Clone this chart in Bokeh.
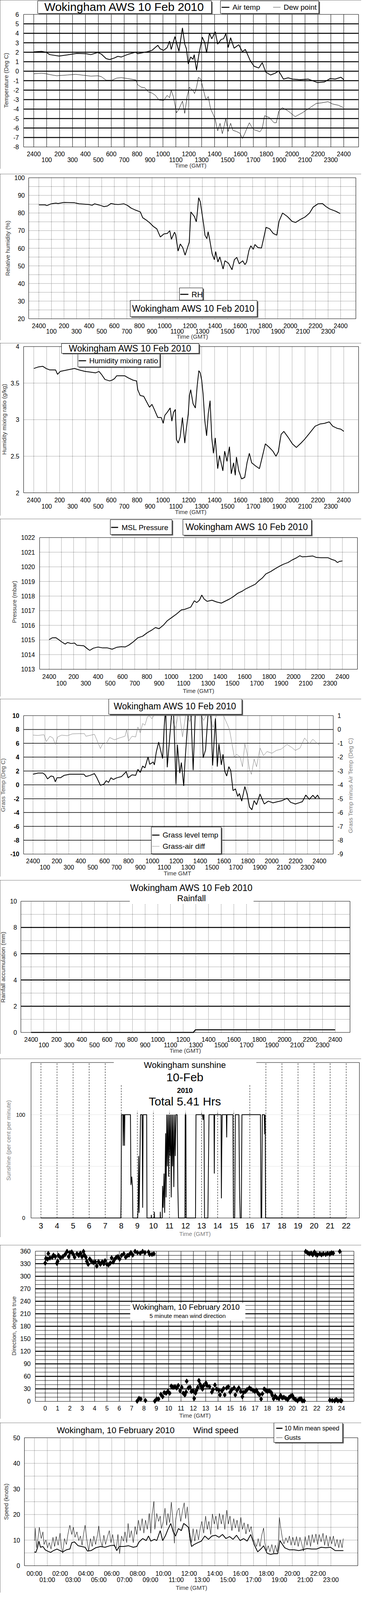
import math
from bokeh.plotting import figure
from bokeh.models import Range1d, Label, BoxAnnotation, Spacer
from bokeh.layouts import column
from bokeh.embed import file_html
from bokeh.resources import INLINE
from bokeh.core.properties import value

# ---------------------------------------------------------------- data
HOURS_ALL = list(range(0, 25))
HOURS_EVEN = [0, 2, 4, 6, 8, 10, 12, 14, 16, 18, 20, 22, 24]
HOURS_ODD = [1, 3, 5, 7, 9, 11, 13, 15, 17, 19, 21, 23]
LABELS_EVEN = ["2400", "200", "400", "600", "800", "1000", "1200", "1400", "1600",
               "1800", "2000", "2200", "2400"]
LABELS_ODD = ["100", "300", "500", "700", "900", "1100", "1300", "1500", "1700",
              "1900", "2100", "2300"]
CLOCK_HOURS_EVEN = [0, 2, 4, 6, 8, 10, 12, 14, 16, 18, 20, 22]
CLOCK_EVEN = ["00:00", "02:00", "04:00", "06:00", "08:00", "10:00", "12:00", "14:00",
              "16:00", "18:00", "20:00", "22:00"]
CLOCK_ODD = ["01:00", "03:00", "05:00", "07:00", "09:00", "11:00", "13:00", "15:00",
             "17:00", "19:00", "21:00", "23:00"]
SUN_HOURS = list(range(3, 23))

AIR_TEMP = [(0.00, 2.04), (0.60, 2.10), (0.96, 2.00), (1.24, 1.75), (1.96, 1.60), (2.60, 1.72),
            (3.33, 1.88), (4.05, 1.85), (4.42, 1.75), (4.96, 1.98), (5.24, 1.80), (5.60, 1.33),
            (5.87, 1.23), (6.24, 1.40), (6.51, 1.57), (6.78, 1.50), (7.33, 1.80), (7.87, 2.00),
            (8.05, 1.85), (8.42, 1.95), (8.78, 2.06), (9.15, 2.20), (9.60, 2.74), (9.78, 2.37),
            (10.05, 2.20), (10.33, 2.50), (10.51, 3.17), (10.64, 2.30), (10.93, 3.66), (11.05, 3.00),
            (11.24, 2.10), (11.51, 4.58), (11.69, 2.86), (11.82, 2.37), (11.96, 0.77), (12.15, 1.50),
            (12.33, 1.26), (12.42, 1.75), (12.60, 0.10), (12.78, 1.75), (13.05, 3.60), (13.24, 3.00),
            (13.38, 1.94), (13.60, 4.03), (13.78, 3.42), (14.05, 4.16), (14.24, 2.86), (14.51, 3.36),
            (14.69, 3.42), (14.87, 3.97), (15.05, 2.50), (15.24, 3.54), (15.51, 2.43), (15.87, 2.80),
            (16.15, 2.06), (16.38, 2.30), (16.75, 1.14), (17.05, 0.53), (17.42, 0.34), (17.69, 0.90),
            (17.96, -0.09), (18.33, -0.40), (18.69, -0.21), (18.96, 0.03), (19.33, -0.83),
            (19.69, -0.70), (20.05, -0.83), (20.60, -0.89), (21.24, -0.83), (21.96, -1.20),
            (22.51, -1.13), (22.96, -0.77), (23.33, -0.83), (23.78, -0.64), (24.00, -0.89)]

DEW_POINT = [(0.00, -0.27), (0.60, -0.21), (0.96, -0.27), (1.24, -0.36), (1.78, -0.48), (1.96, -0.46),
             (2.60, -0.40), (3.24, -0.33), (3.87, -0.43), (4.42, -0.52), (4.96, -0.48), (5.24, -0.58),
             (5.60, -0.95), (6.05, -0.95), (6.42, -0.73), (6.78, -0.68), (7.24, -0.77), (7.60, -0.85),
             (7.91, -0.93), (8.05, -1.44), (8.33, -1.69), (8.60, -1.75), (8.87, -2.18), (9.15, -2.30),
             (9.42, -2.55), (9.69, -3.04), (10.05, -3.10), (10.33, -2.55), (10.51, -2.80), (10.64, -2.00),
             (10.82, -2.74), (11.05, -4.40), (11.24, -4.00), (11.51, -3.16), (11.69, -4.45), (11.87, -2.67),
             (12.05, -1.69), (12.33, -2.06), (12.45, -2.36), (12.60, -1.69), (12.75, -0.64), (12.93, -0.83),
             (13.15, -2.06), (13.33, -3.04), (13.51, -2.67), (13.69, -4.00), (13.87, -4.50), (14.05, -5.10),
             (14.24, -6.30), (14.42, -5.50), (14.60, -6.60), (14.87, -5.00), (15.05, -6.36), (15.24, -5.50),
             (15.42, -6.24), (15.69, -6.36), (15.96, -6.55), (16.15, -7.10), (16.33, -6.60), (16.51, -6.00),
             (16.69, -5.44), (16.87, -5.87), (17.05, -6.18), (17.33, -6.30), (17.51, -6.40), (17.69, -6.05),
             (17.87, -4.70), (18.24, -4.90), (18.60, -5.44), (18.78, -5.44), (18.96, -4.27), (19.24, -3.84),
             (19.69, -4.20), (20.24, -4.80), (20.78, -4.40), (21.33, -3.90), (21.87, -3.40), (22.24, -3.35),
             (22.78, -3.22), (23.15, -3.47), (23.60, -3.60), (23.96, -3.84)]

REL_HUM = [(0.00, 84.6), (0.50, 84.6), (0.64, 84.2), (0.97, 85.2), (1.35, 85.6), (1.53, 85.4), (2.00, 86.0),
           (2.84, 85.8), (3.21, 85.2), (3.96, 84.8), (4.24, 84.4), (4.43, 85.2), (4.90, 84.3), (5.18, 83.6),
           (5.46, 84.0), (5.74, 85.4), (6.02, 85.0), (6.30, 84.8), (6.77, 85.2), (7.05, 84.3), (7.33, 82.8),
           (7.70, 81.6), (8.07, 80.6), (8.26, 77.3), (8.54, 76.0), (8.82, 74.4), (9.10, 72.4), (9.38, 71.0),
           (9.66, 66.4), (9.94, 68.1), (10.22, 68.4), (10.41, 70.0), (10.54, 65.1), (10.79, 69.1),
           (10.88, 67.7), (11.07, 58.4), (11.25, 62.4), (11.44, 60.4), (11.63, 56.1), (11.81, 60.1),
           (11.96, 63.4), (12.09, 80.6), (12.37, 78.0), (12.52, 75.0), (12.60, 80.0), (12.71, 88.7),
           (12.84, 86.3), (13.12, 72.7), (13.21, 67.4), (13.36, 65.4), (13.46, 69.4), (13.59, 64.7),
           (13.78, 56.8), (13.96, 53.5), (14.06, 58.1), (14.24, 52.2), (14.39, 55.1), (14.65, 48.2),
           (14.80, 52.9), (15.08, 51.5), (15.36, 47.8), (15.55, 53.5), (15.74, 54.8), (15.93, 51.2),
           (16.21, 52.9), (16.39, 50.7), (16.52, 52.2), (16.71, 58.8), (16.86, 61.4), (17.05, 59.4),
           (17.18, 62.1), (17.42, 60.4), (17.70, 60.1), (17.89, 66.1), (18.07, 71.9), (18.36, 71.0),
           (18.64, 68.4), (18.92, 67.4), (19.10, 75.3), (19.38, 80.0), (19.76, 78.0), (20.13, 75.3),
           (20.41, 74.6), (20.79, 76.3), (21.16, 77.7), (21.53, 80.0), (21.81, 83.3), (22.19, 85.2),
           (22.56, 85.3), (22.84, 83.6), (23.12, 82.3), (23.60, 81.0), (23.96, 79.7)]

MIX_RATIO = [(0.00, 3.70), (0.33, 3.72), (0.69, 3.73), (0.96, 3.70), (1.24, 3.68), (1.69, 3.68), (1.84, 3.62),
             (2.05, 3.66), (2.60, 3.68), (3.15, 3.70), (3.51, 3.68), (3.96, 3.66), (4.42, 3.65), (4.78, 3.64),
             (5.05, 3.66), (5.24, 3.62), (5.51, 3.55), (5.87, 3.53), (6.05, 3.54), (6.24, 3.56), (6.42, 3.60),
             (6.78, 3.60), (7.05, 3.60), (7.33, 3.57), (7.69, 3.54), (7.96, 3.53), (8.05, 3.41), (8.24, 3.33),
             (8.51, 3.32), (8.69, 3.26), (8.96, 3.17), (9.15, 3.21), (9.33, 3.14), (9.60, 3.03), (9.87, 3.03),
             (10.02, 2.95), (10.15, 3.06), (10.33, 3.10), (10.56, 3.16), (10.69, 2.98), (10.82, 3.10),
             (10.96, 3.14), (11.05, 2.73), (11.18, 2.68), (11.33, 2.76), (11.51, 3.03), (11.69, 2.68),
             (11.78, 2.83), (11.96, 3.08), (12.05, 3.33), (12.15, 3.41), (12.33, 3.22), (12.51, 3.16),
             (12.65, 3.46), (12.78, 3.67), (12.89, 3.64), (13.00, 3.54), (13.11, 3.35), (13.24, 2.99),
             (13.38, 2.78), (13.51, 3.08), (13.65, 3.26), (13.78, 2.75), (13.91, 2.54), (14.05, 2.75),
             (14.24, 2.33), (14.38, 2.51), (14.64, 2.30), (14.78, 2.57), (14.96, 2.43), (15.15, 2.63),
             (15.29, 2.26), (15.47, 2.41), (15.60, 2.24), (15.69, 2.49), (15.87, 2.30), (16.09, 2.19),
             (16.33, 2.21), (16.51, 2.41), (16.69, 2.54), (16.87, 2.41), (17.15, 2.37), (17.47, 2.33),
             (17.69, 2.49), (17.93, 2.67), (18.24, 2.62), (18.51, 2.57), (18.75, 2.50), (18.93, 2.56),
             (19.15, 2.80), (19.36, 2.84), (19.69, 2.76), (20.02, 2.67), (20.33, 2.62), (20.69, 2.68),
             (20.96, 2.73), (21.33, 2.81), (21.78, 2.91), (22.15, 2.94), (22.51, 2.95), (22.87, 2.97),
             (23.15, 2.91), (23.51, 2.88), (23.78, 2.87), (24.00, 2.84)]

PRESSURE = [(0.00, 1015.03), (0.25, 1015.15), (0.54, 1015.16), (0.77, 1015.03), (1.02, 1014.87),
            (1.31, 1014.72), (1.50, 1014.83), (1.79, 1014.76), (2.08, 1014.79), (2.27, 1014.64),
            (2.84, 1014.60), (3.13, 1014.40), (3.32, 1014.29), (3.61, 1014.44), (4.00, 1014.52),
            (4.38, 1014.46), (4.77, 1014.46), (5.15, 1014.37), (5.53, 1014.50), (5.92, 1014.54),
            (6.21, 1014.52), (6.50, 1014.64), (6.88, 1014.87), (7.26, 1015.15), (7.65, 1015.26),
            (8.03, 1015.50), (8.42, 1015.69), (8.70, 1015.85), (8.99, 1015.77), (9.38, 1016.04),
            (9.67, 1016.32), (10.05, 1016.55), (10.43, 1016.78), (10.82, 1017.06), (11.11, 1017.10),
            (11.40, 1017.19), (11.59, 1017.25), (11.88, 1017.68), (12.07, 1017.56), (12.30, 1017.72),
            (12.49, 1018.07), (12.68, 1017.80), (12.93, 1017.64), (13.32, 1017.72), (13.70, 1017.60),
            (14.09, 1017.52), (14.47, 1017.68), (14.76, 1017.80), (15.05, 1017.95), (15.43, 1018.19),
            (15.81, 1018.34), (16.10, 1018.50), (16.49, 1018.66), (16.87, 1018.81), (17.16, 1019.05),
            (17.45, 1019.24), (17.74, 1019.52), (18.12, 1019.67), (18.50, 1019.87), (18.89, 1020.06),
            (19.18, 1020.18), (19.56, 1020.30), (19.85, 1020.45), (20.23, 1020.61), (20.52, 1020.76),
            (20.72, 1020.68), (21.10, 1020.70), (21.58, 1020.74), (21.87, 1020.64), (22.25, 1020.62),
            (22.83, 1020.62), (23.12, 1020.51), (23.41, 1020.43), (23.60, 1020.29), (23.75, 1020.37),
            (24.00, 1020.40)]

GRASS_TEMP = [(0.00, 1.53), (0.43, 1.70), (0.83, 1.70), (1.02, 1.45), (1.22, 0.86), (1.51, 1.28), (1.71, 1.20),
              (1.87, 0.44), (2.01, 1.02), (2.30, 1.02), (2.60, 1.36), (3.09, 1.53), (3.68, 1.53), (4.27, 1.53),
              (4.43, 1.20), (4.76, 1.36), (5.15, 1.62), (5.35, 1.02), (5.65, -0.07), (5.94, 0.10), (6.14, 0.60),
              (6.33, 0.35), (6.53, 1.02), (6.73, 0.77), (7.02, 1.02), (7.42, 1.20), (7.81, 1.90), (7.97, 1.02),
              (8.30, 1.45), (8.60, 1.36), (8.79, 2.24), (8.99, 1.79), (9.19, 2.71), (9.38, 2.46), (9.64, 4.03),
              (9.78, 2.97), (10.07, 3.30), (10.17, 2.88), (10.33, 4.74), (10.53, 6.17), (10.66, 5.24),
              (10.86, 3.81), (11.00, 8.60), (11.12, 11.0), (11.25, 2.54), (11.45, 6.76), (11.65, 11.0),
              (11.78, 10.5), (11.98, 0.10), (12.10, 5.80), (12.30, 1.70), (12.43, 3.22), (12.63, -0.15),
              (12.73, 3.22), (13.02, 10.5), (13.22, 10.8), (13.42, 2.12), (13.61, 11.0), (13.91, 10.5),
              (14.11, 11.0), (14.26, 3.90), (14.46, 5.07), (14.70, 11.0), (14.89, 10.8), (15.05, 2.80),
              (15.29, 9.60), (15.44, 2.63), (15.58, 5.90), (15.78, 2.88), (15.92, 4.40), (16.07, 1.96),
              (16.23, 1.28), (16.41, 2.63), (16.57, 2.04), (16.76, -0.83), (16.96, -0.58), (17.16, -1.67),
              (17.29, -1.25), (17.49, -2.35), (17.75, -0.24), (17.94, -1.33), (18.14, -3.19), (18.34, -3.60),
              (18.53, -2.27), (18.73, -2.86), (19.02, -1.33), (19.38, -2.77), (19.71, -2.35), (20.11, -2.60),
              (20.50, -2.43), (20.89, -2.27), (21.29, -1.93), (21.58, -2.52), (21.98, -2.77), (22.57, -2.43),
              (22.86, -1.47), (23.15, -2.10), (23.45, -1.50), (23.65, -1.93), (23.84, -1.47), (24.00, -2.00)]

GRASS_AIR_DIFF = [(0.00, -0.41), (0.43, -0.43), (0.92, -0.38), (1.12, -0.87), (1.42, -0.49), (1.67, -0.62),
                  (1.87, -1.08), (2.07, -0.54), (2.40, -0.41), (2.89, -0.45), (3.29, -0.32), (3.88, -0.30),
                  (4.31, -0.30), (4.43, -0.49), (4.86, -0.41), (5.15, -0.35), (5.45, -0.96), (5.65, -1.38),
                  (5.84, -1.04), (6.14, -1.00), (6.43, -0.58), (6.83, -0.75), (7.22, -0.62), (7.71, -0.49),
                  (7.85, 0.00), (8.01, -0.83), (8.30, -0.49), (8.60, -0.54), (8.79, 0.18), (8.99, -0.24),
                  (9.19, 0.43), (9.38, 0.31), (9.58, 0.90), (9.74, 1.00), (9.97, 0.77), (10.17, 1.07),
                  (10.56, 1.40), (10.96, 1.30), (11.35, 1.50), (11.94, 0.05), (12.24, 1.40), (12.53, -0.54),
                  (12.83, 1.30), (13.12, 0.56), (13.52, 1.40), (13.91, 1.30), (14.30, 0.65), (14.70, 1.40),
                  (15.09, 0.14), (15.48, 1.40), (15.97, 0.98), (16.27, 0.39), (16.47, -0.03), (16.66, -0.96),
                  (16.86, -1.97), (17.06, -1.80), (17.35, -1.97), (17.55, -2.69), (17.75, -1.04), (17.94, -1.72),
                  (18.14, -2.90), (18.30, -3.24), (18.53, -2.14), (18.73, -2.69), (19.02, -1.34), (19.32, -1.89),
                  (19.61, -1.59), (20.01, -1.72), (20.40, -1.51), (20.80, -1.42), (21.29, -1.08), (21.68, -1.30),
                  (21.98, -1.51), (22.37, -1.34), (22.76, -0.62), (23.15, -1.04), (23.45, -0.70), (23.75, -0.96),
                  (24.00, -1.13)]

RAINFALL = [(0.00, 0.0), (12.80, 0.0), (12.97, 0.2), (24.00, 0.2)]

SUNSHINE = [(3.00, 0), (7.97, 0), (7.99, 20), (8.01, 100), (8.10, 100), (8.12, 70), (8.14, 100), (8.18, 100),
            (8.20, 70), (8.22, 100), (8.57, 100), (8.60, 32), (8.65, 40), (8.70, 30), (8.72, 0), (9.02, 0),
            (9.05, 10), (9.08, 60), (9.11, 5), (9.20, 100), (9.30, 100), (9.33, 10), (9.36, 100), (9.58, 100),
            (9.60, 0), (9.86, 0), (9.87, 3), (9.88, 0), (10.05, 0), (10.06, 6), (10.07, 0), (10.42, 0),
            (10.43, 6), (10.44, 0), (10.55, 0), (10.57, 31), (10.61, 10), (10.66, 43), (10.70, 5), (10.76, 82),
            (10.79, 20), (10.83, 100), (10.87, 50), (10.91, 100), (10.95, 40), (10.99, 100), (11.03, 60),
            (11.07, 100), (11.11, 20), (11.15, 100), (11.19, 50), (11.23, 100), (11.27, 30), (11.32, 100),
            (11.36, 60), (11.40, 100), (11.48, 100), (11.52, 30), (11.56, 0), (11.96, 0), (11.98, 100),
            (12.02, 100), (12.04, 0), (12.62, 0), (12.65, 100), (13.06, 100), (13.09, 95), (13.12, 100),
            (13.15, 100), (13.18, 0), (13.39, 0), (13.46, 100), (13.77, 100), (13.79, 43), (13.81, 100),
            (14.21, 100), (14.23, 19), (14.25, 61), (14.28, 100), (14.54, 100), (14.56, 78), (14.58, 100),
            (14.95, 100), (14.98, 0), (15.06, 0), (15.10, 100), (15.32, 100), (15.36, 28), (15.40, 0),
            (15.47, 0), (15.51, 100), (16.66, 100), (16.70, 0), (16.74, 0), (16.78, 100), (16.90, 100),
            (16.93, 81), (16.96, 100), (16.98, 0), (22.00, 0)]

WIND_DIR = [(0.00, 331.5), (0.06, 342.7), (0.19, 341.0), (0.25, 354.4), (0.38, 344.0), (0.57, 345.5),
            (0.67, 350.5), (0.82, 346.9), (0.95, 331.0), (1.01, 335.7), (1.08, 349.7), (1.24, 344.0),
            (1.43, 346.9), (1.62, 352.4), (1.77, 359.4), (1.90, 346.9), (2.00, 356.6), (2.15, 358.0),
            (2.28, 352.4), (2.38, 345.5), (2.57, 353.8), (2.72, 349.7), (2.85, 355.2), (2.98, 346.9),
            (3.10, 359.4), (3.17, 351.0), (3.29, 345.5), (3.37, 335.7), (3.48, 328.7), (3.61, 341.3),
            (3.71, 337.0), (3.90, 332.9), (4.05, 334.3), (4.18, 324.5), (4.32, 334.8), (4.47, 328.7),
            (4.62, 334.3), (4.75, 330.0), (4.85, 337.0), (5.00, 328.7), (5.13, 327.3), (5.27, 331.5),
            (5.38, 344.0), (5.51, 334.3), (5.61, 339.9), (5.76, 345.5), (5.89, 346.9), (6.03, 341.3),
            (6.18, 349.7), (6.37, 353.8), (6.52, 345.5), (6.65, 349.7), (6.79, 351.0), (6.94, 356.6),
            (7.09, 351.0), (7.28, 359.4), (7.47, 356.6), (7.70, 355.2), (7.89, 359.4), (8.08, 356.6),
            (8.37, 358.0), (8.46, 352.4), (8.65, 352.4), (8.80, 353.8),
            (7.45, 0.6), (7.60, 7.0), (7.74, 5.6), (8.12, 2.0), (8.88, 0.6), (9.03, 5.6), (9.18, 5.6),
            (9.37, 16.8), (9.51, 11.2), (9.64, 21.0), (9.79, 19.6), (9.94, 23.8), (10.08, 19.6),
            (10.21, 36.4), (10.36, 33.6), (10.51, 35.0), (10.65, 32.2), (10.78, 37.8), (10.93, 25.2),
            (11.06, 33.6), (11.18, 19.6), (11.31, 15.4), (11.41, 22.4), (11.46, 48.1), (11.60, 32.2),
            (11.73, 33.6), (11.84, 23.8), (11.98, 25.2), (12.07, 7.0), (12.17, 19.6), (12.26, 26.6),
            (12.36, 33.6), (12.45, 49.8), (12.55, 40.6), (12.64, 35.0), (12.74, 29.4), (12.83, 37.8),
            (13.02, 43.9), (13.12, 37.8), (13.31, 35.0), (13.50, 22.4), (13.59, 28.0), (13.75, 39.2),
            (13.88, 29.4), (14.07, 26.6), (14.16, 15.4), (14.32, 25.2), (14.45, 30.8), (14.54, 15.4),
            (14.70, 32.2), (14.83, 35.0), (14.98, 22.4), (15.11, 28.0), (15.30, 32.2), (15.40, 15.4),
            (15.53, 26.6), (15.68, 32.2), (15.84, 23.8), (15.97, 11.2), (16.06, 21.0), (16.22, 23.8),
            (16.35, 28.0), (16.54, 32.2), (16.67, 29.4), (16.83, 26.6), (16.98, 23.8), (17.11, 26.6),
            (17.24, 19.6), (17.36, 15.4), (17.49, 5.6), (17.59, 18.2), (17.74, 29.4), (17.87, 26.6),
            (18.00, 23.8), (18.16, 25.2), (18.31, 21.0), (18.38, 15.4), (18.50, 6.4), (18.63, 12.6),
            (18.76, 8.4), (18.92, 7.0), (19.07, 14.0), (19.20, 8.4), (19.33, 9.8), (19.49, 7.0),
            (19.64, 4.2), (19.77, 9.8), (19.90, 12.6), (20.02, 14.0), (20.15, 7.0), (20.29, 4.2),
            (20.44, 1.4), (20.59, 5.6), (20.72, 6.4), (20.82, 1.4), (20.97, 1.4),
            (21.10, 359.4), (21.24, 356.6), (21.39, 353.8), (21.54, 355.2), (21.67, 351.6), (21.81, 358.0),
            (21.92, 352.4), (22.05, 351.0), (22.24, 353.8), (22.38, 351.6), (22.53, 353.8), (22.72, 352.4),
            (22.87, 354.4), (23.06, 353.3), (23.19, 356.0), (23.33, 355.2), (23.86, 359.4),
            (23.06, 2.8), (23.25, 2.0), (23.44, 1.4), (23.57, 4.2), (23.71, 1.4), (23.90, 2.0), (24.00, 1.4)]

WIND_MEAN = [(0.00, 5.4), (0.11, 5.2), (0.24, 7.0), (0.35, 9.6), (0.47, 7.2), (0.66, 7.5), (0.84, 6.2),
             (1.02, 5.7), (1.26, 5.2), (1.48, 5.9), (1.75, 6.5), (1.99, 5.9), (2.20, 5.4), (2.48, 6.2),
             (2.75, 6.5), (2.90, 9.0), (3.11, 9.3), (3.39, 7.8), (3.66, 7.5), (3.93, 7.2), (4.12, 5.7),
             (4.39, 5.9), (4.75, 7.0), (5.12, 7.5), (5.48, 7.2), (5.85, 7.8), (6.21, 8.0), (6.39, 5.9),
             (6.58, 7.5), (6.94, 7.5), (7.30, 7.8), (7.67, 7.2), (7.94, 7.5), (8.12, 9.3), (8.40, 10.6),
             (8.67, 9.8), (8.85, 11.6), (9.03, 9.6), (9.31, 10.3), (9.49, 9.8), (9.76, 13.7), (9.95, 9.8),
             (10.18, 11.9), (10.36, 14.2), (10.58, 16.5), (10.77, 13.2), (10.95, 11.6), (11.17, 14.5),
             (11.40, 13.7), (11.58, 16.5), (11.77, 15.8), (11.95, 15.0), (12.08, 10.3), (12.19, 7.5),
             (12.40, 8.3), (12.68, 9.0), (12.95, 9.6), (13.22, 11.6), (13.50, 10.3), (13.77, 11.6),
             (14.04, 11.9), (14.32, 11.1), (14.59, 12.2), (14.86, 10.6), (15.14, 11.4), (15.41, 10.3),
             (15.68, 11.9), (15.96, 9.8), (16.23, 10.6), (16.50, 9.6), (16.78, 12.2), (17.05, 8.3),
             (17.32, 5.4), (17.60, 6.7), (17.78, 7.8), (18.05, 4.9), (18.32, 4.4), (18.60, 4.7),
             (18.87, 4.7), (19.05, 9.8), (19.24, 8.3), (19.42, 7.0), (19.78, 6.2), (20.15, 6.2),
             (20.51, 5.9), (20.78, 6.2), (21.15, 6.7), (21.51, 6.5), (21.88, 6.5), (22.24, 7.2),
             (22.60, 7.0), (22.97, 7.2), (23.33, 5.9), (23.70, 5.9), (23.97, 5.9)]

WIND_GUST = [(0.02, 9.8), (0.07, 14.7), (0.16, 7.0), (0.29, 11.1), (0.38, 15.0), (0.53, 10.6), (0.66, 13.2),
             (0.75, 8.3), (0.89, 10.1), (1.02, 7.0), (1.15, 9.0), (1.29, 6.5), (1.44, 11.1), (1.57, 7.5),
             (1.69, 11.4), (1.84, 8.0), (1.99, 12.7), (2.11, 7.0), (2.20, 4.9), (2.33, 10.6), (2.48, 8.3),
             (2.60, 12.2), (2.75, 15.8), (2.90, 12.2), (3.02, 15.0), (3.15, 11.1), (3.30, 13.2), (3.44, 9.8),
             (3.57, 11.6), (3.70, 8.0), (3.81, 12.2), (3.93, 15.8), (4.06, 10.6), (4.21, 5.7), (4.35, 10.6),
             (4.48, 7.5), (4.61, 11.6), (4.75, 8.3), (4.90, 12.2), (4.99, 15.5), (5.12, 10.1), (5.26, 7.5),
             (5.39, 11.9), (5.52, 8.3), (5.66, 11.1), (5.81, 13.7), (5.94, 9.0), (6.07, 12.2), (6.21, 7.5),
             (6.36, 7.0), (6.48, 12.2), (6.61, 4.7), (6.76, 11.6), (6.90, 9.6), (7.03, 13.2), (7.16, 9.0),
             (7.27, 16.5), (7.40, 10.9), (7.52, 13.7), (7.67, 9.0), (7.81, 15.3), (7.94, 12.2), (8.07, 17.8),
             (8.21, 13.7), (8.36, 18.4), (8.49, 12.7), (8.62, 17.8), (8.76, 14.2), (8.91, 20.4), (9.03, 12.7),
             (9.13, 19.9), (9.27, 25.1), (9.34, 14.2), (9.49, 20.4), (9.64, 17.3), (9.76, 19.4), (9.85, 14.5),
             (10.00, 17.3), (10.13, 22.5), (10.26, 15.8), (10.36, 20.4), (10.49, 16.8), (10.62, 24.8),
             (10.73, 18.6), (10.86, 8.8), (10.95, 17.8), (11.09, 21.5), (11.22, 22.5), (11.35, 17.3),
             (11.49, 21.5), (11.62, 24.6), (11.73, 18.4), (11.86, 23.0), (11.95, 17.8), (12.04, 13.2),
             (12.19, 9.0), (12.31, 14.5), (12.44, 9.6), (12.59, 14.2), (12.73, 10.1), (12.86, 14.5),
             (12.99, 17.3), (13.13, 12.7), (13.28, 19.4), (13.41, 14.2), (13.53, 17.3), (13.68, 12.2),
             (13.81, 20.2), (13.95, 16.3), (14.08, 19.4), (14.23, 14.2), (14.35, 20.4), (14.50, 16.3),
             (14.63, 19.9), (14.77, 14.2), (14.92, 21.7), (15.05, 16.3), (15.17, 19.4), (15.32, 13.7),
             (15.46, 18.4), (15.59, 14.7), (15.72, 17.8), (15.87, 13.2), (16.01, 18.9), (16.14, 14.2),
             (16.27, 16.8), (16.41, 12.4), (16.56, 16.3), (16.68, 13.2), (16.81, 15.3), (16.96, 10.6),
             (17.10, 9.0), (17.23, 7.5), (17.36, 10.6), (17.50, 7.5), (17.65, 12.2), (17.78, 14.7),
             (17.87, 9.0), (18.01, 5.9), (18.14, 7.8), (18.27, 5.4), (18.42, 8.3), (18.56, 4.9), (18.69, 8.0),
             (18.82, 5.4), (18.93, 9.3), (19.00, 18.9), (19.11, 14.7), (19.24, 10.6), (19.36, 8.5),
             (19.51, 10.9), (19.65, 9.0), (19.78, 11.6), (19.91, 8.0), (20.05, 11.1), (20.20, 8.0),
             (20.33, 11.4), (20.46, 7.5), (20.60, 11.1), (20.75, 8.3), (20.87, 5.7), (21.00, 11.4),
             (21.15, 8.0), (21.29, 11.9), (21.42, 7.5), (21.55, 12.2), (21.69, 9.0), (21.84, 12.4),
             (21.97, 8.3), (22.09, 12.2), (22.24, 9.3), (22.39, 12.7), (22.51, 8.0), (22.64, 11.9),
             (22.79, 7.5), (22.93, 11.4), (23.06, 8.5), (23.19, 11.6), (23.33, 7.5), (23.48, 10.3),
             (23.61, 7.0), (23.72, 10.1), (23.87, 7.0), (23.96, 10.6)]

# ---------------------------------------------------------------- layout helpers
NARROW = "Liberation Sans Narrow, Liberation Sans"
SANS = "Liberation Sans"
PAGE_L, PAGE_R = 8, 933
SHADOW = "#606060"
# vertical squeeze so the nine panels fit in the captured height
SQUEEZE = 0.8665


def sy(py):
    return 8 + (py - 8) * SQUEEZE


def xs(series):
    return [a for a, _ in series]


def ys(series):
    return [b for _, b in series]


class Panel:
    """One boxed chart.  The Bokeh frame spans the whole box; the inner plot area,
    its grid and its tick labels are placed through the scales."""

    def __init__(self, top, height, frame, hour0_px, px_per_hr, first_hour, ylo, yhi):
        self.top, self.height = top, height
        self.l, self.r, self.t, self.b = frame
        self.hour0_px, self.pph, self.h0 = hour0_px, px_per_hr, first_hour
        self.ylo, self.yhi = ylo, yhi
        self.px_h = round(sy(top + height)) - round(sy(top))
        p = figure(width=PAGE_R - PAGE_L, height=self.px_h,
                   x_range=Range1d(self.X(PAGE_L), self.X(PAGE_R)),
                   y_range=Range1d(self.Y(top + height), self.Y(top)),
                   output_backend="svg", toolbar_location=None,
                   min_border_left=0, min_border_right=0, min_border_top=0, min_border_bottom=0)
        p.xaxis.visible = False
        p.yaxis.visible = False
        p.xgrid.visible = False
        p.ygrid.visible = False
        p.outline_line_color = None
        p.background_fill_color = "white"
        p.border_fill_color = "white"
        p.styles = {"outline": "1px solid black", "outline-offset": "-1px"}
        self.p = p

    def X(self, px):
        return self.h0 + (px - self.hour0_px) / self.pph

    def Y(self, py):
        return self.yhi - (py - self.t) * (self.yhi - self.ylo) / (self.b - self.t)

    def below(self, off):
        """data value 'off' real pixels below the bottom of the plot area"""
        real_per_ref = self.px_h / self.height
        return self.ylo - off * (self.yhi - self.ylo) / ((self.b - self.t) * real_per_ref)

    def vgrid(self, hours, width=1, dash="solid", color="black"):
        n = len(hours)
        self.p.segment(x0=hours, y0=[self.ylo] * n, x1=hours, y1=[self.yhi] * n,
                       line_color=color, line_width=width, line_dash=dash)

    def hgrid(self, vals, width=1, dash="solid", color="black"):
        n = len(vals)
        self.p.segment(x0=[self.X(self.l)] * n, y0=vals, x1=[self.X(self.r)] * n, y1=vals,
                       line_color=color, line_width=width, line_dash=dash)

    def xticks(self, hours, labels, off, size=16, font=NARROW):
        self.p.text(x=hours, y=[self.below(off)] * len(hours), text=labels, text_font=value(font),
                    text_font_size=value(f"{size}px"), text_align="center", text_baseline="middle",
                    text_color="black")

    def yticks(self, vals, labels, px, size=16, bold=False, align="right", font=NARROW):
        self.p.text(x=[self.X(px)] * len(vals), y=vals, text=labels, text_font=value(font),
                    text_font_size=value(f"{size}px"), text_align=align, text_baseline="middle",
                    text_color="black", text_font_style="bold" if bold else "normal")

    def label_at(self, px, ydata, text, size, bold=False, align="center", font=SANS, color="black",
                 angle=0.0):
        self.p.add_layout(Label(x=self.X(px), y=ydata, text=text, text_align=align,
                                text_baseline="middle", text_font=font, text_font_size=f"{size}px",
                                text_font_style="bold" if bold else "normal", text_color=color,
                                angle=angle))

    def label(self, px, py, text, size, **kw):
        self.label_at(px, self.Y(py), text, size, **kw)

    def ylabel(self, px, py, text, color="#333333"):
        self.label(px, py, text, 15, color=color, angle=math.pi / 2)

    def xlabel(self, px, off, text, color="#333333"):
        self.label_at(px, self.below(off), text, 15, color=color)

    def box(self, l, t, r, b, fill="white", border=True, shadow=False, width=1):
        if shadow:
            self.p.add_layout(BoxAnnotation(left=self.X(l + 3), right=self.X(r + 3), top=self.Y(t + 3),
                                            bottom=self.Y(b + 3), fill_color=SHADOW, fill_alpha=1,
                                            line_alpha=0))
        self.p.add_layout(BoxAnnotation(left=self.X(l), right=self.X(r), top=self.Y(t), bottom=self.Y(b),
                                        fill_color=fill, fill_alpha=1 if fill else 0,
                                        line_color="black", line_alpha=1 if border else 0,
                                        line_width=width))

    def frame_border(self):
        self.box(self.l, self.t, self.r, self.b, fill=None)

    def sample(self, px0, px1, py, thick, color="black"):
        self.p.add_layout(BoxAnnotation(left=self.X(px0), right=self.X(px1), top=self.Y(py - thick / 2),
                                        bottom=self.Y(py + thick / 2), fill_color=color, fill_alpha=1,
                                        line_alpha=0))

    def two_row_hours(self, off1, off2, even=HOURS_EVEN, even_lab=LABELS_EVEN, odd=HOURS_ODD,
                      odd_lab=LABELS_ODD):
        self.xticks(even, even_lab, off1)
        self.xticks(odd, odd_lab, off2)


TITLE = "Wokingham AWS 10 Feb 2010"
panels = []

# ---------------------------------------------------------------- 1 temperature
P = Panel(8, 499, (68, 926, 50, 442), 94, 33.083, 0, -8, 6)
P.vgrid(HOURS_ALL, 1)
P.hgrid(list(range(-7, 6)), 2.5)
P.p.line(xs(AIR_TEMP), ys(AIR_TEMP), line_color="black", line_width=2)
P.p.line(xs(DEW_POINT), ys(DEW_POINT), line_color="black", line_width=1)
P.yticks(list(range(-8, 7)), [str(v) for v in range(-8, 7)], 56)
P.two_row_hours(18, 32.5)
P.xlabel(496, 47, "Time (GMT)")
P.ylabel(23, 245, "Temperature (Deg C)")
P.frame_border()
P.box(104, 10, 549, 47, shadow=True)
P.label(326, 28, TITLE, 30)
P.box(572, 10, 824, 47, shadow=True)
P.sample(575, 595, 29, 3)
P.label(603, 29, "Air temp", 19, align="left")
P.sample(707, 726, 29, 1)
P.label(734, 29, "Dew point", 19, align="left")
panels.append(P)

# ---------------------------------------------------------------- 2 relative humidity
P = Panel(522, 491, (81, 919, 533, 949), 107, 32.21, 0, 20, 100)
P.vgrid(HOURS_ALL, 1, "1 2")
P.hgrid(list(range(25, 100, 5)), 1, "1 2")
P.p.line(xs(REL_HUM), ys(REL_HUM), line_color="black", line_width=2)
P.yticks(list(range(20, 101, 10)), [str(v) for v in range(20, 101, 10)], 71)
P.two_row_hours(18, 32)
P.xlabel(500, 46, "Time (GMT)")
P.ylabel(27, 741, "Relative humidity (%)")
P.frame_border()
P.box(467, 858, 527, 894, shadow=True)
P.sample(469, 490, 877, 3)
P.label(498, 877, "RH", 20, align="left")
P.box(341, 895, 666, 943, shadow=True)
P.label(503, 919, TITLE, 23)
panels.append(P)

# ---------------------------------------------------------------- 3 mixing ratio
P = Panel(1021, 510, (68, 926, 1031, 1463), 94, 33.083, 0, 2, 4)
P.vgrid(HOURS_ALL, 1, "1 2")
P.hgrid([2.5, 3.0, 3.5], 1, "1 2")
P.p.line(xs(MIX_RATIO), ys(MIX_RATIO), line_color="black", line_width=2)
P.yticks([2, 2.5, 3, 3.5, 4], ["2", "2.5", "3", "3.5", "4"], 57)
P.two_row_hours(18, 34)
P.xlabel(496, 49, "Time (GMT)")
P.ylabel(18, 1246, "Humidity mixing ratio (g/kg)")
P.frame_border()
P.box(207, 1042, 417, 1091, shadow=True)
P.sample(209, 228, 1073, 3)
P.label(236, 1073, "Humidity mixing ratio", 19, align="left")
P.box(165, 1022, 517, 1051, shadow=True)
P.label(341, 1036, TITLE, 23)
panels.append(P)

# ---------------------------------------------------------------- 4 pressure
P = Panel(1541, 525, (109, 923, 1596, 1985), 133.5, 31.29, 0, 1013, 1022)
P.vgrid(HOURS_ALL, 1, "1 2")
P.hgrid(list(range(1014, 1022)), 1, "1 2")
P.p.line(xs(PRESSURE), ys(PRESSURE), line_color="black", line_width=2)
P.yticks(list(range(1013, 1023)), [str(v) for v in range(1013, 1023)], 97)
P.two_row_hours(19, 36)
P.xlabel(516, 55, "Time (GMT)")
P.ylabel(44, 1786, "Pressure (mbar)")
P.frame_border()
P.box(290, 1543, 448, 1587, shadow=True)
P.sample(292, 310, 1566, 3)
P.label(319, 1566, "MSL Pressure", 19, align="left")
P.box(476, 1542, 805, 1589, shadow=True)
P.label(640, 1565, TITLE, 23)
panels.append(P)

# ---------------------------------------------------------------- 5 grass temperature
P = Panel(2073, 525, (68, 861, 2122, 2531), 92, 30.57, 0, -10, 10)
RLO, RHI = -9, 1


def right_to_left(v):
    return P.ylo + (v - RLO) * (P.yhi - P.ylo) / (RHI - RLO)


yr = P.p.y_range
P.p.extra_y_ranges = {"diff": Range1d(RLO + (yr.start - P.ylo) * (RHI - RLO) / (P.yhi - P.ylo),
                                      RLO + (yr.end - P.ylo) * (RHI - RLO) / (P.yhi - P.ylo))}
P.vgrid(HOURS_ALL, 1, "1 2")
P.hgrid(list(range(-8, 9, 2)), 1.5)
P.p.line(xs(GRASS_AIR_DIFF), ys(GRASS_AIR_DIFF), line_color="#808080", line_width=1, y_range_name="diff")
P.p.line(xs(GRASS_TEMP), ys(GRASS_TEMP), line_color="black", line_width=2)
P.yticks(list(range(-10, 11, 2)), [str(v) for v in range(-10, 11, 2)], 57, bold=True)
P.yticks([right_to_left(v) for v in range(-9, 2)], [str(v) for v in range(-9, 2)], 872, align="left")
P.two_row_hours(18, 33.5)
P.xlabel(462, 49, "Time GMT")
P.ylabel(15, 2327, "Grass Temp (Deg C)", color="#555555")
P.ylabel(905, 2328, "Grass Temp minus Air Temp (Deg C)", color="#808080")
P.box(P.l + 1, P.top + 1, P.r - 1, P.t, border=False)
P.frame_border()
P.box(286, 2073, 627, 2118, shadow=True)
P.label(456, 2094, TITLE, 23)
P.box(395, 2451, 574, 2530, shadow=True)
P.sample(397, 416, 2475, 3)
P.label(424, 2475, "Grass level temp", 19, align="left")
P.sample(397, 416, 2508, 1, color="#808080")
P.label(424, 2508, "Grass-air diff", 19, align="left")
panels.append(P)

# ---------------------------------------------------------------- 6 rainfall
P = Panel(2608, 514, (61, 904, 2670, 3058), 87.2, 32.45, 0, 0, 10)
P.vgrid(HOURS_ALL, 1, "1 2")
P.hgrid([1, 3, 5, 7, 9], 1, "1 2")
P.hgrid([2, 4, 6, 8], 2.5)
P.p.line(xs(RAINFALL), ys(RAINFALL), line_color="black", line_width=2.5)
P.yticks([0, 2, 4, 6, 8, 10], ["0", "2", "4", "6", "8", "10"], 51)
P.two_row_hours(18, 32)
P.xlabel(482, 46, "Time (GMT)")
P.ylabel(15, 2865, "Rainfall accumulation (mm)")
P.frame_border()
P.box(340, 2612, 657, 2679, border=False)
P.label(498, 2630, TITLE, 23)
P.label(498, 2661, "Rainfall", 22)
panels.append(P)

# ---------------------------------------------------------------- 7 sunshine
P = Panel(3136, 527, (87, 928, 3147, 3606), 112.4, 41.15, 3, 0, 150.5)
P.vgrid(SUN_HOURS, 1, "4 3")
P.hgrid([50, 100], 1, "1 2", color="#aaaaaa")
P.p.line(xs(SUNSHINE), ys(SUNSHINE), line_color="black", line_width=2)
P.yticks([0, 100], ["0", "100"], 72, size=14)
P.xticks(SUN_HOURS, [str(h) for h in SUN_HOURS], 20, size=20, font=SANS)
P.xlabel(507, 40, "Time (GMT)", color="#808080")
P.ylabel(29, 3377, "Sunshine (per cent per minute)", color="#808080")
P.frame_border()
P.box(299, 3140, 664, 3213, border=False)
P.box(321, 3140, 644, 3290, border=False)
P.label(481, 3155, "Wokingham sunshine", 22)
P.label(481, 3190, "10-Feb", 30)
P.label(481, 3229, "2010", 18, bold=True)
P.label(481, 3262, "Total 5.41 Hrs", 30)
panels.append(P)

# ---------------------------------------------------------------- 8 wind direction
P = Panel(3686, 514, (98, 914, 3704, 4148), 123.3, 31.62, 0, 0, 360)
P.vgrid(HOURS_ALL, 1)
P.hgrid([v for v in range(10, 360, 10) if v % 30 != 0], 1)
P.hgrid(list(range(30, 360, 30)), 2.5)
P.p.scatter(xs(WIND_DIR), ys(WIND_DIR), marker="diamond", size=13, color="black")
P.yticks(list(range(0, 361, 30)), [str(v) for v in range(0, 361, 30)], 86)
P.xticks(HOURS_ALL, [str(h) for h in HOURS_ALL], 18)
P.xlabel(507, 36, "Time (GMT)")
P.ylabel(43, 3925, "Direction, degrees true")
P.frame_border()
P.box(341, 3857, 636, 3909, border=False)
P.label(487, 3869, "Wokingham,  10 February 2010", 20)
P.label(488, 3895, "5 minute mean wind direction", 15)
panels.append(P)

# ---------------------------------------------------------------- 9 wind speed
P = Panel(4211, 502, (70, 924, 4255, 4633), 95.6, 33.02, 0, 0, 50)
P.vgrid(list(range(0, 24)), 1, "1 2")
P.hgrid(list(range(5, 50, 5)), 1, "1 2")
P.p.line(xs(WIND_GUST), ys(WIND_GUST), line_color="black", line_width=1)
P.p.line(xs(WIND_MEAN), ys(WIND_MEAN), line_color="black", line_width=2)
P.yticks(list(range(0, 51, 10)), [str(v) for v in range(0, 51, 10)], 59)
P.two_row_hours(20, 36, CLOCK_HOURS_EVEN, CLOCK_EVEN, HOURS_ODD, CLOCK_ODD)
P.xlabel(498, 56, "Time (GMT)")
P.ylabel(23, 4444, "Speed (knots)")
P.frame_border()
P.label(153, 4233, "Wokingham,  10 February 2010", 22, align="left")
P.label(502, 4233, "Wind speed", 22, align="left")
P.box(709, 4211, 885, 4269, shadow=True)
P.sample(715, 731, 4227, 3)
P.label(736, 4227, "10 Min mean speed", 16, align="left")
P.sample(715, 731, 4255, 1)
P.label(736, 4255, "Gusts", 16, align="left")
panels.append(P)

# ---------------------------------------------------------------- page
children = []
for i, pan in enumerate(panels):
    if i > 0:
        prev = panels[i - 1]
        gap = round(sy(pan.top)) - round(sy(prev.top + prev.height))
        children.append(Spacer(height=max(gap, 0)))
    children.append(pan.p)

layout = column(*children)
open("out.html", "w").write(file_html(layout, INLINE))
